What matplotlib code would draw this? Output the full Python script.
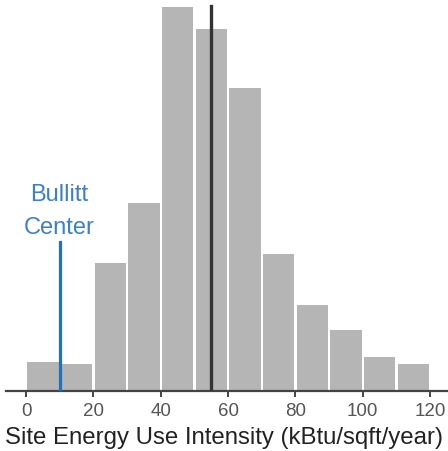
import numpy as np
import matplotlib.pyplot as plt

plt.rcParams['font.family'] = ['Liberation Sans', 'DejaVu Sans']

# histogram bins (kBtu/sqft/year) and bar heights (relative frequency)
bin_left = [0, 10, 20, 30, 40, 50, 60, 70, 80, 90, 100, 110]
heights = [29, 27, 128, 188, 384, 362, 303, 137, 86, 61, 34, 27]
ticks = [0, 20, 40, 60, 80, 100, 120]

median_eui = 55
bullitt_eui = 10
bullitt_height = 149
median_height = 385

fig = plt.figure(figsize=(4.48, 4.52), dpi=100)
ax = fig.add_axes([0, 60.3 / 452, 1, 1 - 60.3 / 452])

centers = np.array(bin_left) + 5
ax.bar(centers, heights, width=9.3, color='#b5b5b5', edgecolor='none', zorder=1)

ax.plot([median_eui, median_eui], [0, median_height], color='#333333', linewidth=2.4, zorder=3)
ax.plot([bullitt_eui, bullitt_eui], [0, bullitt_height], color='#1f74b8', linewidth=2.3, zorder=3)

ax.text(bullitt_eui, 196.4, 'Bullitt', color='#3d80c5', fontsize=17, ha='center', va='center')
ax.text(bullitt_eui, 163.7, 'Center', color='#3d80c5', fontsize=17, ha='center', va='center')

ax.set_xlim(-7.72, 125.3)
ax.set_ylim(0, 391.7)

for s in ['top', 'right', 'left']:
    ax.spines[s].set_visible(False)
ax.spines['bottom'].set_color('#444444')
ax.spines['bottom'].set_linewidth(1.6)
ax.spines['bottom'].set_bounds(-5.8, 125.3)

ax.set_yticks([])
ax.set_xticks(ticks)
ax.tick_params(axis='x', direction='out', length=4, width=1.4, color='#444444',
               labelcolor='#555555', labelsize=13.5, pad=4)
ax.set_xlabel('Site Energy Use Intensity (kBtu/sqft/year)', fontsize=17.3,
              color='#222222', labelpad=5)

fig.savefig('out.png', dpi=100)
